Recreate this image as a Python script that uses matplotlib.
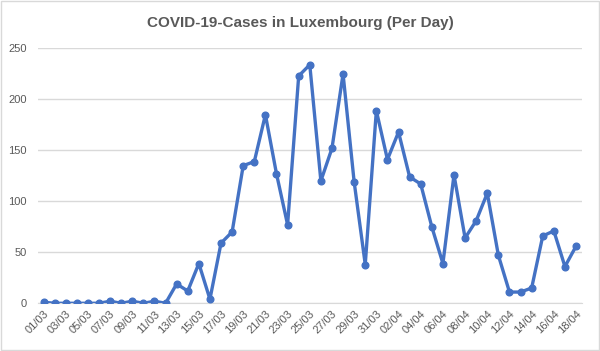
import numpy as np
import matplotlib.pyplot as plt
from matplotlib.patches import Rectangle

# daily new cases, 01/03 .. 18/04
march = [1, 0, 0, 0, 0, 0, 2, 0, 2, 0, 2, 0, 19, 12, 39, 4, 59, 70, 135, 139,
         185, 127, 77, 223, 234, 120, 152, 225, 119, 38, 189]
april = [141, 168, 124, 117, 75, 39, 126, 64, 81, 108, 47, 11, 11, 15, 66, 71, 36, 56]
dates = ['%02d/03' % d for d in range(1, 32)] + ['%02d/04' % d for d in range(1, 19)]
cases = march + april
yticks = [0, 50, 100, 150, 200, 250]

plt.rcParams['font.family'] = ['Liberation Sans', 'DejaVu Sans']

fig = plt.figure(figsize=(6, 3.51), dpi=100)
ax = fig.add_axes([0.0633, 0.136, 0.906, 0.726])

x = np.arange(len(cases))
ax.plot(x, cases, color='#4472C4', linewidth=2.4, marker='o', markersize=4.8,
        zorder=3)

ax.set_xlim(-0.5, len(cases) - 0.5)
ax.set_ylim(0, 250)
ax.set_yticks(yticks)
ax.set_xticks(x[::2])
ax.set_xticklabels(dates[::2], rotation=45, ha='right', rotation_mode='anchor')
ax.tick_params(axis='both', length=0, labelsize=8, labelcolor='#595959')
ax.tick_params(axis='y', pad=8)
ax.tick_params(axis='x', pad=4)
ax.grid(axis='y', color='#D9D9D9', linewidth=1)
ax.set_axisbelow(True)
for s in ['top', 'right', 'left']:
    ax.spines[s].set_visible(False)
ax.spines['bottom'].set_color('#D9D9D9')

fig.text(0.5, 0.935, 'COVID-19-Cases in Luxembourg (Per Day)', ha='center',
         va='center', fontsize=11, fontweight='bold', color='#595959')

fig.patches.append(Rectangle((0.001, 0.002), 0.997, 0.995, transform=fig.transFigure,
                             fill=False, edgecolor='#D9D9D9', linewidth=1))

fig.savefig('out.png', dpi=100)
